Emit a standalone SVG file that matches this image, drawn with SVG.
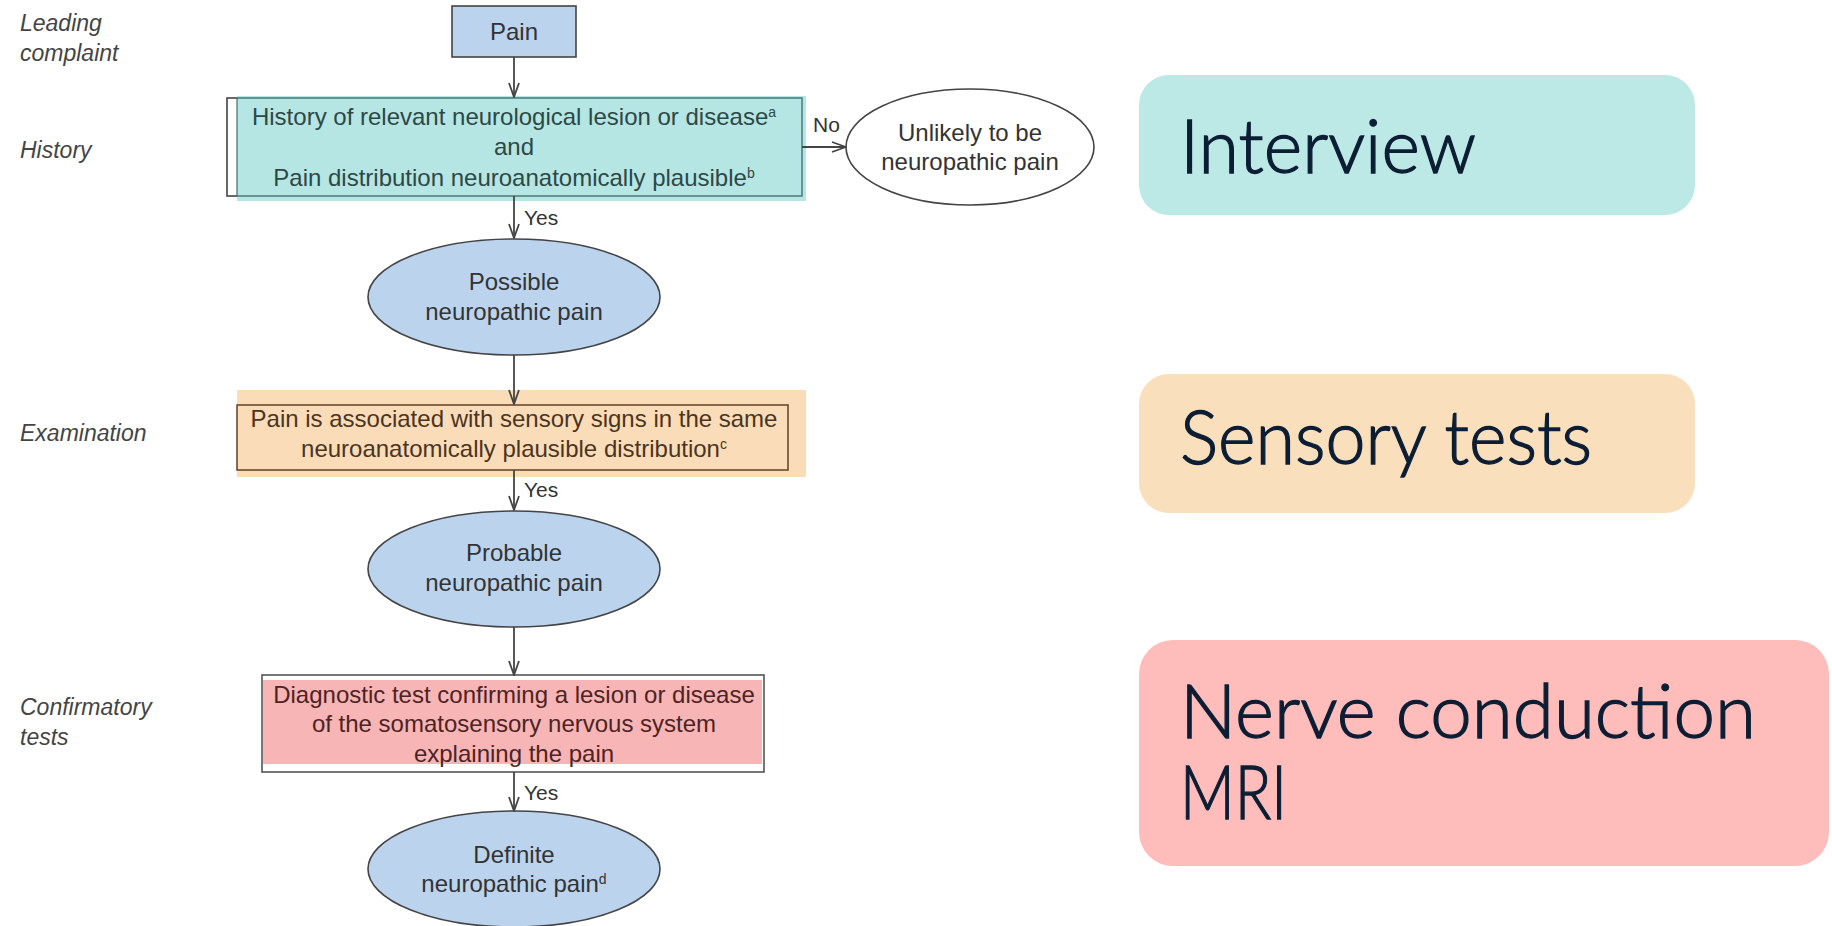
<svg xmlns="http://www.w3.org/2000/svg" width="1832" height="926" viewBox="0 0 1832 926">
<style>
.lab{font-family:"Liberation Sans",Arial,sans-serif;font-style:italic;font-size:23px;fill:#444}
.t{font-family:"Liberation Sans",Arial,sans-serif;font-size:24px;fill:#333;text-anchor:middle}
.tt{fill:#2d4846}
.to{fill:#4a3522}
.tr{fill:#4e2323}
.sm{font-family:"Liberation Sans",Arial,sans-serif;font-size:21px;fill:#333}
.sup{font-size:14px}
.ell{fill:#bcd3ee;stroke:#444;stroke-width:1.6}
.box{fill:none;stroke:#444;stroke-width:1.6}
.big{font-family:"Lato","Noto Sans",sans-serif;font-size:74px;font-weight:300;fill:#0c1e34;stroke:#0c1e34;stroke-width:1.3}
.conn line{stroke:#444;stroke-width:1.8}
</style>
<defs>
<marker id="ah" viewBox="0 0 16 12" refX="15" refY="6" markerWidth="16" markerHeight="12" markerUnits="userSpaceOnUse" orient="auto">
<path d="M1,1 L15,6 L1,11" fill="none" stroke="#444" stroke-width="1.8"/>
</marker>
</defs>
<rect width="1832" height="926" fill="#fff"/>

<g id="labels">
<text class="lab" x="20" y="31">Leading</text>
<text class="lab" x="20" y="61">complaint</text>
<text class="lab" x="20" y="158">History</text>
<text class="lab" x="20" y="441">Examination</text>
<text class="lab" x="20" y="715">Confirmatory</text>
<text class="lab" x="20" y="745">tests</text>
</g>

<g id="pain">
<rect x="452" y="6" width="124" height="51" fill="#bcd3ee" stroke="#444" stroke-width="1.6"/>
<text class="t" x="514" y="40">Pain</text>
</g>

<g id="history">
<rect x="227" y="98" width="575" height="98" class="box"/>
<rect x="237" y="96" width="569" height="105" fill="#a8e2de" opacity="0.85"/>
<rect x="237" y="98" width="565" height="98" fill="none" stroke="#3f6e6c" stroke-width="1.2"/>
<text class="t tt" x="514" y="125">History of relevant neurological lesion or disease<tspan class="sup" dy="-8">a</tspan></text>
<text class="t tt" x="514" y="155">and</text>
<text class="t tt" x="514" y="186">Pain distribution neuroanatomically plausible<tspan class="sup" dy="-8">b</tspan></text>
</g>

<g id="unlikely">
<ellipse cx="970" cy="147" rx="124" ry="58" fill="#fff" stroke="#444" stroke-width="1.6"/>
<text class="t" x="970" y="141">Unlikely to be</text>
<text class="t" x="970" y="170">neuropathic pain</text>
</g>

<g id="possible">
<ellipse cx="514" cy="297" rx="146" ry="58" class="ell"/>
<text class="t" x="514" y="290">Possible</text>
<text class="t" x="514" y="320">neuropathic pain</text>
</g>

<g id="examination">
<rect x="237" y="390" width="569" height="87" fill="#fbdcb8"/>
<rect x="237" y="405" width="551" height="65" fill="none" stroke="#6b4a2e" stroke-width="1.6"/>
<text class="t to" x="514" y="427">Pain is associated with sensory signs in the same</text>
<text class="t to" x="514" y="457">neuroanatomically plausible distribution<tspan class="sup" dy="-8">c</tspan></text>
</g>

<g id="probable">
<ellipse cx="514" cy="569" rx="146" ry="58" class="ell"/>
<text class="t" x="514" y="561">Probable</text>
<text class="t" x="514" y="591">neuropathic pain</text>
</g>

<g id="confirm">
<rect x="262" y="675" width="502" height="97" fill="#fff" stroke="#555" stroke-width="1.6"/>
<rect x="263" y="680" width="499" height="84" fill="#f7b5b6"/>
<text class="t tr" x="514" y="703">Diagnostic test confirming a lesion or disease</text>
<text class="t tr" x="514" y="732">of the somatosensory nervous system</text>
<text class="t tr" x="514" y="762">explaining the pain</text>
</g>

<g id="definite">
<ellipse cx="514" cy="869" rx="146" ry="58" class="ell"/>
<text class="t" x="514" y="863">Definite</text>
<text class="t" x="514" y="892">neuropathic pain<tspan class="sup" dy="-8">d</tspan></text>
</g>

<g id="connectors" class="conn">
<line x1="514" y1="57" x2="514" y2="97" marker-end="url(#ah)"/>
<line x1="802" y1="147" x2="846" y2="147" marker-end="url(#ah)"/>
<line x1="514" y1="196" x2="514" y2="238" marker-end="url(#ah)"/>
<line x1="514" y1="355" x2="514" y2="404" marker-end="url(#ah)"/>
<line x1="514" y1="470" x2="514" y2="510" marker-end="url(#ah)"/>
<line x1="514" y1="627" x2="514" y2="675" marker-end="url(#ah)"/>
<line x1="514" y1="772" x2="514" y2="811" marker-end="url(#ah)"/>
<text class="sm" x="813" y="132">No</text>
<text class="sm" x="524" y="225">Yes</text>
<text class="sm" x="524" y="497">Yes</text>
<text class="sm" x="524" y="800">Yes</text>
</g>

<g id="interview">
<rect x="1139" y="75" width="556" height="140" rx="30" fill="#bce8e6"/>
<text class="big" x="1180" y="173" textLength="296" lengthAdjust="spacingAndGlyphs">Interview</text>
</g>
<g id="sensory">
<rect x="1139" y="374" width="556" height="139" rx="30" fill="#fadfbd"/>
<text class="big" x="1180" y="464" textLength="412" lengthAdjust="spacingAndGlyphs">Sensory tests</text>
</g>
<g id="nerve">
<rect x="1139" y="640" width="690" height="226" rx="34" fill="#febcbb"/>
<text class="big" x="1180" y="738" textLength="576" lengthAdjust="spacingAndGlyphs">Nerve conduction</text>
<text class="big" x="1180" y="819" textLength="107" lengthAdjust="spacingAndGlyphs">MRI</text>
</g>
</svg>
